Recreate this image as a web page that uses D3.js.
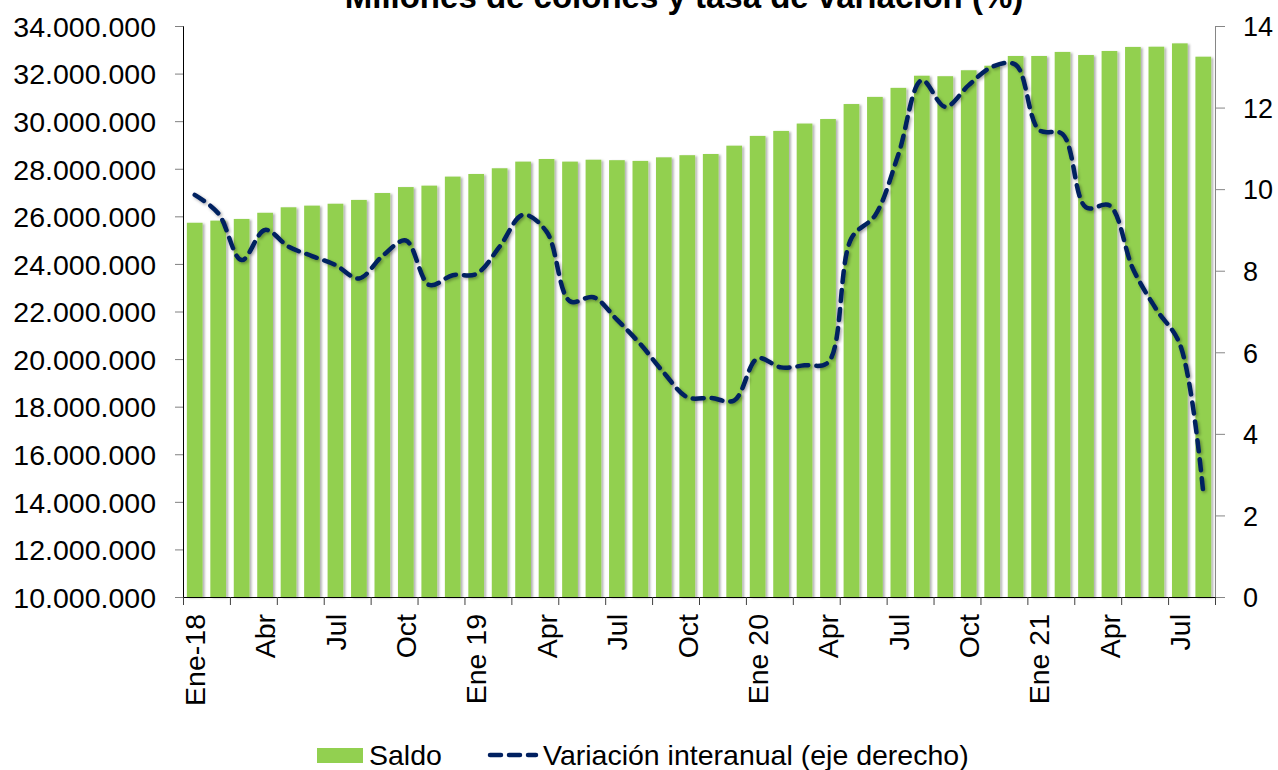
<!DOCTYPE html>
<html>
<head>
<meta charset="utf-8">
<script src="https://cdn.jsdelivr.net/npm/d3@7"></script>
<style>
  body { margin: 0; background: #fff; }
  text { font-family: "Liberation Sans", Arial, sans-serif; fill: #000; }
</style>
</head>
<body>
<div id="main"></div>
<script>
const ctx = {
    w: 1278,
    h: 770,
    left: 183,
    right: 1215,
    top: 26,
    bottom: 597,
    FONT: 28.5,
    FONT_R: 27
};

// months Ene-18 .. Ago-21
const months = ["Ene-18","Feb","Mar","Abr","May","Jun","Jul","Ago","Set","Oct","Nov","Dic",
                "Ene 19","Feb","Mar","Apr","May","Jun","Jul","Ago","Set","Oct","Nov","Dic",
                "Ene 20","Feb","Mar","Apr","May","Jun","Jul","Ago","Set","Oct","Nov","Dic",
                "Ene 21","Feb","Mar","Apr","May","Jun","Jul","Ago"];

// saldo, millones de colones
const saldo = [25730000, 25820000, 25890000, 26150000, 26380000, 26450000, 26530000, 26690000,
               26980000, 27230000, 27290000, 27670000, 27780000, 28020000, 28300000, 28410000,
               28300000, 28380000, 28360000, 28330000, 28480000, 28570000, 28620000, 28970000,
               29380000, 29590000, 29900000, 30090000, 30720000, 31020000, 31400000, 31910000,
               31890000, 32140000, 32330000, 32740000, 32740000, 32910000, 32780000, 32950000,
               33120000, 33130000, 33270000, 32710000];

// variación interanual (%)
const variacion = [9.86, 9.41, 8.26, 9.0, 8.59, 8.36, 8.14, 7.81, 8.36, 8.74, 7.65, 7.89,
                   7.92, 8.59, 9.37, 8.96, 7.25, 7.35, 6.8, 6.2, 5.5, 4.9, 4.88, 4.82,
                   5.85, 5.63, 5.68, 5.75, 8.8, 9.35, 10.85, 12.67, 12.02, 12.55, 13.0, 13.05,
                   11.45, 11.35, 9.55, 9.6, 8.05, 7.05, 6.2, 2.55];

const leftTicks = d3.range(10000000, 34000001, 2000000);
const rightTicks = d3.range(0, 15, 2);

const svg = d3.select("#main").append("svg")
    .attr("width", ctx.w).attr("height", ctx.h);

const defs = svg.append("defs");
defs.append("filter").attr("id", "shadow")
    .attr("x", "-20%").attr("y", "-5%").attr("width", "150%").attr("height", "110%")
    .append("feDropShadow")
    .attr("dx", 2).attr("dy", 1).attr("stdDeviation", 1.2)
    .attr("flood-color", "#000").attr("flood-opacity", 0.3);
defs.append("filter").attr("id", "lshadow")
    .append("feDropShadow")
    .attr("dx", 1.5).attr("dy", 1.5).attr("stdDeviation", 1.5)
    .attr("flood-color", "#000").attr("flood-opacity", 0.35);

const idx = months.map((m, i) => i);
const xBand = d3.scaleBand().domain(idx).range([ctx.left, ctx.right]).paddingInner(0.33).paddingOuter(0.165);
const xLin = d3.scaleLinear().domain([0, months.length]).range([ctx.left, ctx.right]);
const yL = d3.scaleLinear().domain([10000000, 34000000]).range([ctx.bottom, ctx.top]);
const yR = d3.scaleLinear().domain([0, 14]).range([ctx.bottom, ctx.top]);

const fmt = (v) => d3.format(",")(v).replace(/,/g, ".");

// bars
svg.append("g").attr("filter", "url(#shadow)")
    .selectAll("rect")
    .data(saldo)
    .enter()
    .append("rect")
    .attr("x", (d, i) => xBand(i))
    .attr("y", (d) => yL(d))
    .attr("width", xBand.bandwidth())
    .attr("height", (d) => ctx.bottom - yL(d))
    .attr("fill", "#92D050");

// left axis
const gL = svg.append("g")
    .attr("transform", `translate(${ctx.left},0)`)
    .call(d3.axisLeft(yL).tickValues(leftTicks).tickSize(8).tickPadding(19).tickFormat(fmt));
gL.selectAll("text").style("font-size", ctx.FONT + "px").attr("dy", "0.36em");
gL.select(".domain").attr("stroke", "#000");
gL.selectAll(".tick line").attr("stroke", "#808080");

// right axis
const gR = svg.append("g")
    .attr("transform", `translate(${ctx.right},0)`)
    .call(d3.axisRight(yR).tickValues(rightTicks).tickSize(10).tickPadding(18));
gR.selectAll("text").style("font-size", ctx.FONT_R + "px").attr("dy", "0.36em");
gR.select(".domain").attr("stroke", "#868686");
gR.selectAll(".tick line").attr("stroke", "#868686");

// bottom axis: ticks every 2 months at category boundaries
const gB = svg.append("g")
    .attr("transform", `translate(0,${ctx.bottom})`)
    .call(d3.axisBottom(xLin).tickValues(d3.range(0, months.length + 1, 2)).tickSize(8).tickFormat(""));
gB.select(".domain").attr("stroke", "#000");
gB.selectAll(".tick line").attr("stroke", "#404040");

// labels every 3 months
const gLab = svg.append("g")
    .attr("transform", `translate(0,${ctx.bottom})`)
    .call(d3.axisBottom(xBand).tickValues(idx.filter((i) => i % 3 == 0)).tickSize(0).tickFormat((i) => months[i]));
gLab.select(".domain").remove();
gLab.selectAll("text")
    .style("font-size", ctx.FONT + "px")
    .style("text-anchor", "end")
    .attr("transform", "rotate(-90)")
    .attr("x", -17)
    .attr("y", 0)
    .attr("dy", "0.36em");

// line
const line = d3.line()
    .x((d, i) => xBand(i) + xBand.bandwidth() / 2)
    .y((d) => yR(d))
    .curve(d3.curveCatmullRom.alpha(0.5));
svg.append("path")
    .datum(variacion)
    .attr("d", line)
    .attr("fill", "none")
    .attr("stroke", "#002060")
    .attr("stroke-width", 4.5)
    .attr("stroke-dasharray", "11,8")
    .attr("stroke-linecap", "round")
    .attr("filter", "url(#lshadow)");

// title (partly cut off at the top, as in the source)
svg.append("text")
    .attr("x", 684)
    .attr("y", 8)
    .style("text-anchor", "middle")
    .style("font-size", "33px")
    .style("font-weight", "bold")
    .text("Millones de colones y tasa de variación (%)");

// legend
const lg = svg.append("g");
lg.append("rect")
    .attr("x", 317).attr("y", 748).attr("width", 46).attr("height", 15)
    .attr("fill", "#92D050");
lg.append("text")
    .attr("x", 369).attr("y", 765)
    .style("font-size", ctx.FONT + "px")
    .text("Saldo");
lg.append("line")
    .attr("x1", 490).attr("x2", 536).attr("y1", 755).attr("y2", 755)
    .attr("stroke", "#002060").attr("stroke-width", 4.5)
    .attr("stroke-dasharray", "11,8").attr("stroke-linecap", "round");
lg.append("text")
    .attr("x", 543).attr("y", 765)
    .style("font-size", ctx.FONT + "px")
    .text("Variación interanual (eje derecho)");
</script>
</body>
</html>
